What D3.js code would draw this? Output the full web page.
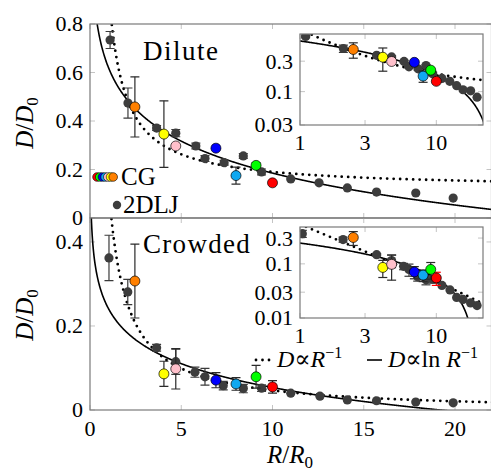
<!DOCTYPE html>
<head>
  <meta charset="utf-8">
  <title>Diffusion vs radius</title>
  <style>
    body { margin: 0; background: #fff; }
    svg text { font-family: "Liberation Serif", "Tinos", "Times New Roman", "DejaVu Serif", serif; fill: #000; }
  </style>
</head>
<body>
<script src="https://d3js.org/d3.v7.min.js"></script>
<script>
// 2DLJ reference points (dark dots)
const ljR_dil   = [1.1, 2.08, 3.65, 4.7, 5.8, 6.3, 7.35, 8.4, 9.4, 11.0, 12.55, 14.1, 15.7, 17.85, 19.9];
const ljD_dil   = [0.734, 0.474, 0.371, 0.35, 0.297, 0.245, 0.228, 0.256, 0.19, 0.161, 0.145, 0.124, 0.107, 0.103, 0.082];
const ljErr_dil = [0.035, 0.062, 0.01, 0.015, 0.012, 0.012, 0.01, 0.01, 0.012, 0, 0, 0, 0, 0, 0];

const ljR_crw   = [1.04, 2.07, 3.65, 4.7, 5.75, 6.3, 7.3, 8.4, 9.4, 11.0, 12.6, 14.1, 15.7, 17.85, 19.9];
const ljD_crw   = [0.362, 0.281, 0.148, 0.115, 0.09, 0.079, 0.058, 0.051, 0.052, 0.04, 0.033, 0.024, 0.022, 0.019, 0.017];
const ljErr_crw = [0.054, 0.03, 0.008, 0.03, 0.012, 0.02, 0.01, 0.01, 0.008, 0, 0, 0, 0, 0, 0];

// CG proteins (coloured markers)
const cgColors  = ["#ff8000", "#ffff00", "#ffc0cb", "#0000ff", "#10a8f0", "#00ff00", "#ff0000"];
const cgR       = [2.46, 4.05, 4.7, 6.9, 8.0, 9.1, 10.0];
const cgD_dil   = [0.458, 0.346, 0.297, 0.288, 0.175, 0.217, 0.145];
const cgErr_dil = [0.124, 0.137, 0, 0, 0.035, 0.01, 0];
const cgD_crw   = [0.307, 0.086, 0.098, 0.071, 0.062, 0.079, 0.055];
const cgErr_crw = [0.088, 0.03, 0.048, 0.018, 0.015, 0.027, 0.015];

// model curves: D = c + b/(R - r0)  and  D = a ln(Rc/R)
const invFit = { dil: [0.12, 0.687, 0.18], crw: [-0.005, 0.513, 0.06] };
const lnFit  = { dil: [0.19, 26.5], crw: [0.082, 19.2] };

const mainXTicks = [0, 5, 10, 15, 20];
const dilYTicks = [0, 0.2, 0.4, 0.6, 0.8];
const crwYTicks = [0, 0.2, 0.4];
const insXTicks = [1, 3, 10];
const insDilYTicks = [0.03, 0.1, 0.3];
const insCrwYTicks = [0.01, 0.03, 0.1, 0.3];

const W = 491, H = 473;
const svg = d3.select("body").append("svg").attr("width", W).attr("height", H)
  .attr("font-family", "'Liberation Serif', 'DejaVu Serif', serif");
const defs = svg.append("defs");

const xMain = d3.scaleLinear().domain([0, 22]).range([90, 491.5]);
const yDil = d3.scaleLinear().domain([0, 0.8]).range([218, 24]);
const yCrw = d3.scaleLinear().domain([0, 0.457]).range([410, 218]);
const xIns = d3.scaleLog().domain([1, 22]).range([300, 483]);
const yInsDil = d3.scaleLog().domain([0.03, 0.8]).range([125, 34]);
const yInsCrw = d3.scaleLog().domain([0.01, 0.48]).range([318, 227]);

const fmt = v => String(v);
let clipId = 0;

function invCurve(p) { return R => p[0] + p[1] / (R - p[2]); }
function lnCurve(p) { return R => p[0] * Math.log(p[1] / R); }

function panel(x, y, o) {
  const g = svg.append("g");
  const [x0, x1] = x.range(), [y0, y1] = y.range();
  if (o.inset) {
    g.append("rect").attr("x", x0).attr("y", y1).attr("width", x1 - x0).attr("height", y0 - y1)
      .attr("fill", "#fff");
  }
  // tick marks, inside on all sides
  const tg = g.append("g").attr("stroke", "#c4c4c4").attr("stroke-width", 1);
  o.xt.forEach(t => {
    const px = x(t);
    tg.append("line").attr("x1", px).attr("x2", px).attr("y1", y0).attr("y2", y0 - 5);
    tg.append("line").attr("x1", px).attr("x2", px).attr("y1", y1).attr("y2", y1 + 5);
  });
  o.yt.forEach(t => {
    const py = y(t);
    tg.append("line").attr("x1", x0).attr("x2", x0 + 5).attr("y1", py).attr("y2", py);
    tg.append("line").attr("x1", x1).attr("x2", x1 - 5).attr("y1", py).attr("y2", py);
  });

  const id = "clip" + (clipId++);
  defs.append("clipPath").attr("id", id).append("rect")
    .attr("x", x0).attr("y", y1).attr("width", x1 - x0).attr("height", y0 - y1);
  const cg = g.append("g").attr("clip-path", `url(#${id})`);

  const Rs = o.inset ? d3.range(0, 1.4, 0.005).map(e => Math.pow(10, e))
                     : d3.range(0.02, 23, 0.02);
  const line = d3.line().defined(d => isFinite(d[1]) && (!o.inset || d[1] > 0))
    .x(d => x(d[0])).y(d => y(o.inset ? Math.max(d[1], 1e-4) : d[1]));
  const fLn = lnCurve(o.ln), fInv = invCurve(o.inv);
  cg.append("path").attr("d", line(Rs.map(R => [R, fLn(R)])))
    .attr("fill", "none").attr("stroke", "#000").attr("stroke-width", 1.6);
  cg.append("path").attr("d", line(Rs.filter(R => R > o.inv[2] + 0.05).map(R => [R, fInv(R)])))
    .attr("fill", "none").attr("stroke", "#000").attr("stroke-width", 2.8)
    .attr("stroke-linecap", "round").attr("stroke-dasharray", "0 6.5");

  // error bars
  function errBars(R, D, E, col) {
    R.forEach((r, i) => {
      if (!E[i]) return;
      const px = x(r), ya = y(D[i] + E[i]), yb = y(Math.max(D[i] - E[i], o.inset ? 1e-3 : -1));
      const c = typeof col === "function" ? col(i) : col;
      cg.append("line").attr("x1", px).attr("x2", px).attr("y1", ya).attr("y2", yb)
        .attr("stroke", c).attr("stroke-width", 1.2);
      [ya, yb].forEach(yy => cg.append("line").attr("x1", px - 4.5).attr("x2", px + 4.5)
        .attr("y1", yy).attr("y2", yy).attr("stroke", c).attr("stroke-width", 1.2));
    });
  }
  errBars(o.ljR, o.ljD, o.ljE, "#3a3a3a");
  cg.selectAll(null).data(o.ljR).enter().append("circle")
    .attr("cx", d => x(d)).attr("cy", (d, i) => y(o.ljD[i])).attr("r", 4.6)
    .attr("fill", "#3d3d3d");
  errBars(cgR, o.cgD, o.cgE, i => (o.redErr && i === 6) ? "#ff0000" : "#2a2a2a");
  cg.selectAll(null).data(cgR).enter().append("circle")
    .attr("cx", d => x(d)).attr("cy", (d, i) => y(o.cgD[i])).attr("r", 5)
    .attr("fill", (d, i) => cgColors[i]).attr("stroke", "#000").attr("stroke-width", 0.7);

  // frame
  g.append("rect").attr("x", x0).attr("y", y1).attr("width", x1 - x0).attr("height", y0 - y1)
    .attr("fill", "none").attr("stroke", "#7a7a7a").attr("stroke-width", 1.2);

  // labels
  const fs = 22;
  g.selectAll(null).data(o.yt).enter().append("text")
    .attr("x", x0 - 7).attr("y", d => y(d)).attr("dy", "0.34em")
    .attr("text-anchor", "end").attr("font-size", fs).text(fmt);
  if (o.xLabels) {
    g.selectAll(null).data(o.xt).enter().append("text")
      .attr("x", d => x(d)).attr("y", y0 + o.xLabels)
      .attr("text-anchor", "middle").attr("font-size", fs).text(fmt);
  }
  return g;
}

// main panels
panel(xMain, yDil, { xt: mainXTicks, yt: dilYTicks, ln: lnFit.dil, inv: invFit.dil,
  ljR: ljR_dil, ljD: ljD_dil, ljE: ljErr_dil, cgD: cgD_dil, cgE: cgErr_dil });
panel(xMain, yCrw, { xt: mainXTicks, yt: crwYTicks, ln: lnFit.crw, inv: invFit.crw,
  ljR: ljR_crw, ljD: ljD_crw, ljE: ljErr_crw, cgD: cgD_crw, cgE: cgErr_crw, xLabels: 26 });

// insets
panel(xIns, yInsDil, { inset: true, xt: insXTicks, yt: insDilYTicks, ln: lnFit.dil, inv: invFit.dil,
  ljR: ljR_dil, ljD: ljD_dil, ljE: ljErr_dil, cgD: cgD_dil, cgE: cgErr_dil, xLabels: 25 });
panel(xIns, yInsCrw, { inset: true, xt: insXTicks, yt: insCrwYTicks, ln: lnFit.crw, inv: invFit.crw,
  ljR: ljR_crw, ljD: ljD_crw, ljE: ljErr_crw, cgD: cgD_crw, cgE: cgErr_crw, xLabels: 25, redErr: true });

// panel titles
svg.append("text").attr("x", 143).attr("y", 60).attr("font-size", 27)
  .attr("letter-spacing", 1.5).text("Dilute");
svg.append("text").attr("x", 143).attr("y", 253).attr("font-size", 27)
  .attr("letter-spacing", 1.3).text("Crowded");

// axis titles
function dLabel(cy) {
  const t = svg.append("text").attr("transform", `translate(33,${cy}) rotate(-90)`)
    .attr("text-anchor", "middle").attr("font-size", 25);
  t.append("tspan").attr("font-style", "italic").text("D");
  t.append("tspan").text("/");
  t.append("tspan").attr("font-style", "italic").text("D");
  t.append("tspan").attr("font-size", 17).attr("dy", 5).text("0");
}
dLabel(123);
dLabel(315);
const xl = svg.append("text").attr("x", 290).attr("y", 463).attr("text-anchor", "middle").attr("font-size", 25);
xl.append("tspan").attr("font-style", "italic").text("R");
xl.append("tspan").text("/");
xl.append("tspan").attr("font-style", "italic").text("R");
xl.append("tspan").attr("font-size", 17).attr("dy", 5).text("0");

// marker legend
const legOrder = [6, 5, 3, 4, 2, 1, 0];
legOrder.forEach((ci, k) => {
  svg.append("circle").attr("cx", 97 + k * 2.7).attr("cy", 177).attr("r", 4.3)
    .attr("fill", cgColors[ci]).attr("stroke", "#000").attr("stroke-width", 0.6);
});
svg.append("text").attr("x", 121).attr("y", 185).attr("font-size", 25).text("CG");
svg.append("circle").attr("cx", 117).attr("cy", 205).attr("r", 4.2).attr("fill", "#3d3d3d");
svg.append("text").attr("x", 123).attr("y", 213).attr("font-size", 25).text("2DLJ");

// curve legend
svg.append("line").attr("x1", 256).attr("x2", 270).attr("y1", 360).attr("y2", 360)
  .attr("stroke", "#000").attr("stroke-width", 2.8).attr("stroke-linecap", "round")
  .attr("stroke-dasharray", "0 6.5");
const l1 = svg.append("text").attr("x", 277).attr("y", 367).attr("font-size", 24);
l1.append("tspan").attr("font-style", "italic").text("D");
l1.append("tspan").text("\u221D");
l1.append("tspan").attr("font-style", "italic").text("R");
l1.append("tspan").attr("font-size", 16).attr("dy", -9).text("\u22121");
svg.append("line").attr("x1", 367).attr("x2", 382).attr("y1", 360).attr("y2", 360)
  .attr("stroke", "#000").attr("stroke-width", 1.6);
const l2 = svg.append("text").attr("x", 388).attr("y", 367).attr("font-size", 24);
l2.append("tspan").attr("font-style", "italic").text("D");
l2.append("tspan").text("\u221Dln ");
l2.append("tspan").attr("font-style", "italic").text("R");
l2.append("tspan").attr("font-size", 16).attr("dy", -9).text("\u22121");
</script>
</body>
</html>
